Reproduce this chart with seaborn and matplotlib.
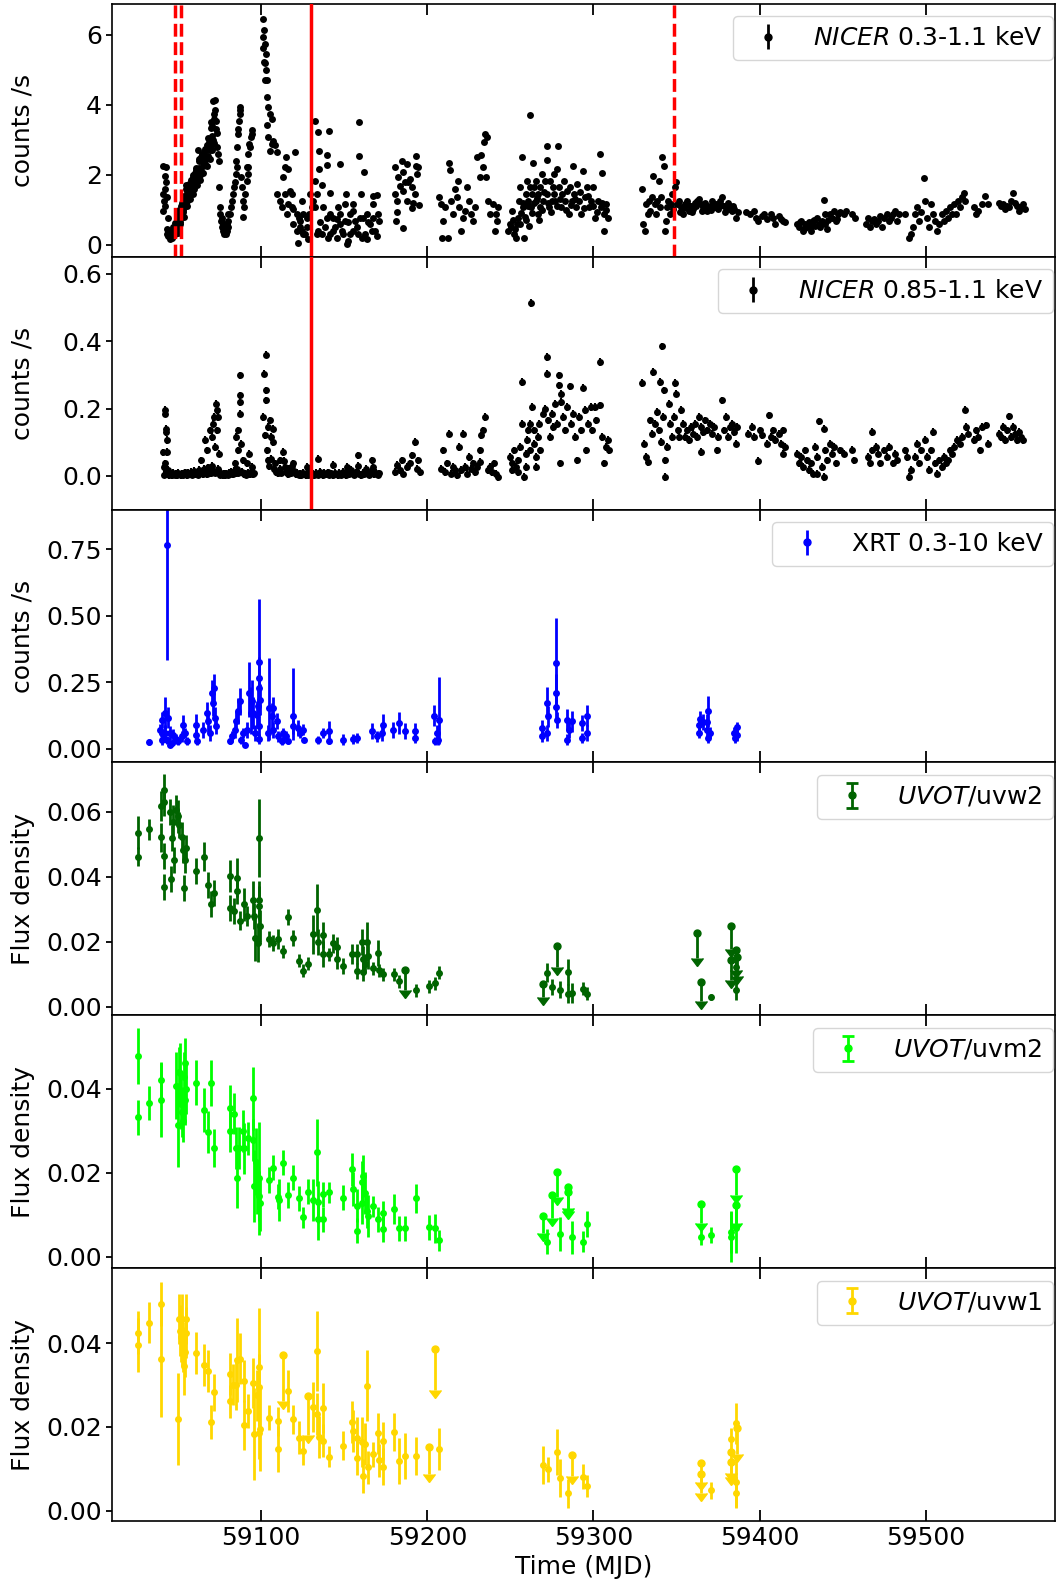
import numpy as np
import pandas as pd
import matplotlib
matplotlib.use("Agg")
import matplotlib.pyplot as plt
import seaborn as sns

# ---------------- data ----------------
# NICER 0.3-1.1 keV : (MJD, counts/s)
nicer_soft = [
    (59041.0,2.26),(59042.4,2.22),(59042.0,1.98),(59042.6,1.79),(59042.0,1.60),(59041.0,1.45),(59043.0,1.36),
    (59041.6,1.26),(59041.0,0.97),(59044.0,0.78),(59043.0,0.45),(59044.0,0.26),(59045.0,0.16),(59042.0,1.12),
    (59043.0,0.31),(59044.6,0.40),
    (59046.0,0.20),(59046.3,0.35),(59046.6,0.28),(59047.0,0.25),(59047.3,0.45),(59047.6,0.35),(59048.0,0.33),
    (59048.4,0.55),(59048.8,0.45),(59049.0,0.42),(59049.4,0.70),(59049.8,0.55),(59050.0,0.52),(59050.4,0.85),
    (59050.8,0.65),(59051.0,0.60),(59051.4,1.10),(59051.8,0.85),(59052.0,0.82),(59052.4,1.20),(59052.8,1.00),
    (59053.0,0.95),(59053.4,1.40),(59053.8,1.15),(59054.0,1.10),(59054.4,1.60),(59054.8,1.30),(59055.0,1.25),
    (59055.4,1.55),(59055.8,1.40),(59056.0,1.30),(59056.5,1.75),(59057.0,1.45),(59057.5,1.85),(59058.0,1.55),
    (59058.5,1.70),(59059.0,1.95),(59059.5,1.60),(59060.0,2.05),(59060.5,1.75),(59061.0,2.20),(59061.5,1.85),
    (59062.0,2.70),(59062.2,1.95),(59062.5,2.40),(59063.0,2.00),(59063.5,2.50),(59064.0,2.10),(59064.5,2.55),
    (59065.0,2.25),(59065.5,2.65),(59066.0,2.30),(59066.5,2.75),(59067.0,2.45),(59067.5,2.85),(59068.0,2.55),
    (59068.5,2.95),(59069.0,2.70),(59069.5,3.35),(59070.0,2.85),(59070.3,3.40),(59070.6,3.10),(59071.0,4.10),
    (59071.3,3.60),(59071.6,2.90),(59072.0,4.15),(59072.3,3.85),(59072.6,3.30),(59073.0,3.55),(59073.3,3.20),
    (59073.6,2.80),(59074.0,2.60),(59074.5,2.40),(59047.8,0.30),(59050.2,0.70),(59052.2,0.95),(59054.2,1.35),
    (59056.2,1.55),(59058.2,1.75),(59060.2,1.90),(59062.8,2.20),(59064.8,2.35),(59066.8,2.55),(59068.8,2.80),
    (59070.8,3.00),(59071.8,3.75),
    (59046.8,0.50),(59048.2,0.62),(59049.6,0.35),(59050.6,1.00),(59051.2,0.75),(59052.6,1.30),(59053.2,0.80),
    (59054.6,1.70),(59055.2,1.10),(59056.8,1.65),(59057.2,1.30),(59058.8,2.00),(59059.2,1.45),(59060.8,2.15),
    (59061.2,1.70),(59062.4,2.45),(59063.2,1.85),(59064.2,2.60),(59065.2,2.05),(59066.2,2.75),(59067.2,2.25),
    (59068.2,3.05),(59069.2,2.45),(59069.8,3.50),(59070.5,2.70),
    (59075.1,0.88),(59075.5,0.69),(59076.1,0.50),(59076.7,0.40),(59077.5,0.31),(59078.1,0.35),(59078.7,0.31),
    (59079.1,0.40),(59079.7,0.50),(59080.1,0.69),(59075.1,1.07),(59076.1,0.78),(59077.1,0.59),(59078.1,0.45),
    (59079.1,0.59),(59080.1,0.88),(59074.5,1.64),(59081.1,0.88),(59081.7,1.07),(59082.3,1.26),(59083.1,1.45),
    (59083.7,1.64),(59084.1,1.79),(59084.7,2.02),(59085.1,2.41),(59085.5,2.79),(59085.7,2.22),(59086.1,3.17),
    (59086.1,3.31),(59086.7,3.55),(59087.1,3.94),(59087.5,3.74),(59087.1,3.84),(59088.1,1.93),(59088.7,1.64),
    (59089.1,1.26),(59089.1,0.80),(59089.5,1.07),(59090.2,1.45),(59091.2,1.83),(59091.2,2.22),(59091.8,2.02),
    (59092.2,2.60),(59092.8,2.88),(59093.2,2.79),(59093.6,3.08),(59094.2,3.17),(59094.6,3.27),(59092.2,2.22),
    (59101.2,6.44),(59101.6,6.13),(59100.8,5.94),(59102.2,5.75),(59101.2,5.61),(59102.8,5.46),(59101.6,5.22),
    (59102.6,4.99),(59103.2,4.70),(59103.6,4.22),(59104.2,3.94),(59105.2,3.74),(59103.2,3.41),(59106.2,3.60),
    (59104.2,3.08),(59107.2,2.98),(59105.2,2.69),(59109.2,2.65),(59106.2,2.88),(59108.2,2.84),(59102.2,5.18),
    (59102.0,4.70),
    (59109.2,1.45),(59111.2,1.26),(59112.2,1.07),(59113.2,1.93),(59114.3,2.22),(59114.9,2.50),(59116.3,2.17),
    (59117.3,1.55),(59118.3,1.45),(59119.3,1.02),(59120.3,2.65),(59121.3,0.40),(59122.3,0.04),(59123.3,0.69),
    (59124.3,1.26),(59125.3,0.88),(59126.3,0.31),(59127.3,0.50),(59128.3,0.16),(59128.9,0.88),(59129.3,1.45),
    (59123.3,0.50),(59121.3,0.88),(59119.3,0.59),(59115.3,0.88),(59118.3,1.07),(59114.3,1.45),(59116.3,1.17),
    (59125.3,0.31),(59127.3,0.78),(59130.3,1.07),(59124.3,0.40),(59122.9,0.78),
    (59132.3,3.53),(59134.3,3.22),(59141.0,3.25),(59134.9,2.69),(59139.3,2.58),(59139.3,2.29),(59134.7,2.17),
    (59147.4,2.31),(59158.6,3.52),(59158.6,2.55),(59162.0,2.09),(59132.3,1.83),(59136.3,1.71),(59141.4,1.47),
    (59151.0,1.45),(59159.8,1.45),(59167.1,1.40),(59169.5,1.42),(59133.3,1.45),(59135.3,0.64),(59138.3,0.50),
    (59141.4,0.31),(59143.4,0.40),(59145.4,0.21),(59147.4,0.88),(59149.4,0.31),(59151.4,0.02),(59152.4,0.11),
    (59155.4,0.40),(59157.4,0.50),(59160.4,0.21),(59162.4,0.31),(59164.4,0.64),(59167.5,0.78),(59168.5,0.40),
    (59169.5,0.26),(59134.3,0.40),(59136.3,0.31),(59139.3,0.78),(59143.4,0.78),(59147.4,0.59),(59150.4,0.69),
    (59153.4,0.88),(59155.4,0.97),(59156.4,0.69),(59161.4,0.78),(59163.4,0.88),(59165.4,0.59),(59146.4,1.07),
    (59150.4,1.17),(59155.4,1.17),(59167.5,1.17),(59145.4,0.74),(59132.3,1.07),(59137.3,1.07),(59141.4,0.88),
    (59144.4,0.50),(59148.4,0.40),(59153.4,0.31),(59159.4,0.78),(59166.5,0.40),(59171.1,0.69),(59170.5,0.88),
    (59131.3,1.26),(59133.3,0.31),(59140.4,0.21),(59152.4,0.64),(59158.4,0.31),(59163.4,0.16),
    (59180.5,2.23),(59184.5,2.41),(59187.5,2.31),(59193.0,2.55),(59194.6,2.22),(59189.5,1.88),(59182.5,1.93),
    (59185.5,2.07),(59183.5,1.69),(59180.5,1.45),(59181.9,1.26),(59185.5,1.55),(59188.5,1.79),(59190.5,1.64),
    (59192.6,1.45),(59191.6,1.21),(59190.5,1.05),(59195.0,1.15),(59181.5,0.93),(59181.1,0.67),(59185.5,0.48),
    (59187.5,1.26),(59186.5,1.79),(59193.2,2.26),(59193.6,2.02),
    (59206.9,1.36),(59208.1,1.17),(59208.6,0.21),(59209.3,0.69),(59210.5,1.07),(59212.5,0.19),(59213.0,2.34),
    (59213.5,2.15),(59214.2,1.26),(59215.4,0.88),(59216.7,1.60),(59217.9,1.36),(59218.4,1.83),(59219.1,1.07),
    (59220.3,0.40),(59221.6,0.78),(59222.8,0.97),(59224.0,1.64),(59225.2,1.26),(59226.5,0.88),(59227.7,0.69),
    (59228.9,1.07),(59230.1,2.50),(59231.4,1.93),(59232.6,2.58),(59233.8,2.22),(59234.3,2.93),(59235.0,3.17),
    (59235.7,3.08),(59235.2,1.93),(59236.3,1.26),(59237.5,0.88),(59239.5,1.17),(59241.2,0.88),(59242.4,1.07),
    (59241.9,0.69),(59240.5,0.40),
    (59248.5,0.40),(59249.8,0.59),(59251.0,0.97),(59252.2,0.31),(59253.4,0.21),(59254.7,0.78),(59255.4,1.26),
    (59255.9,1.64),(59257.1,2.50),(59257.6,1.07),(59258.3,0.19),(59259.1,1.45),(59260.0,1.83),(59260.8,1.26),
    (59261.5,1.64),(59262.0,3.72),(59262.5,1.07),(59263.2,1.45),(59263.7,2.34),(59264.5,1.64),(59265.2,1.26),
    (59265.7,1.83),(59266.4,0.88),(59266.9,1.45),(59267.6,1.07),(59268.1,1.64),(59268.9,2.02),(59269.4,1.26),
    (59270.6,1.83),(59271.8,2.81),(59271.8,2.43),(59272.3,1.45),(59273.0,1.07),(59273.8,1.83),(59274.8,1.26),
    (59275.5,1.64),(59276.2,2.02),(59276.7,1.26),(59277.9,2.17),(59278.7,2.81),(59279.2,1.64),(59280.4,1.07),
    (59281.1,1.45),(59282.1,1.83),(59282.8,1.26),(59284.1,1.55),(59285.3,0.88),(59286.0,1.64),(59287.0,1.26),
    (59287.7,2.24),(59288.5,1.45),(59289.5,1.07),(59290.2,1.74),(59291.4,1.26),(59292.6,0.88),(59293.9,2.10),
    (59295.1,1.36),(59296.3,1.64),(59297.5,1.07),(59298.8,1.26),(59300.0,1.64),(59301.2,0.78),(59302.5,1.26),
    (59303.7,2.60),(59304.4,1.07),(59305.4,2.06),(59306.1,0.88),(59306.6,0.40),(59307.4,1.17),(59308.6,0.78),
    (59250.2,0.50),(59251.8,0.70),(59253.0,0.45),(59254.2,0.60),(59256.6,0.90),(59259.5,0.70),
    (59256.0,0.60),(59257.5,1.20),(59258.8,0.80),(59260.5,1.10),(59261.0,0.55),(59263.0,0.90),(59264.0,1.20),
    (59266.0,1.35),(59267.0,0.70),(59269.0,1.00),(59270.0,1.50),(59272.8,1.20),(59274.2,0.95),(59276.0,1.45),
    (59278.0,1.10),(59280.0,1.30),(59283.5,1.00),(59286.5,1.15),(59289.0,1.30),(59292.0,1.50),(59294.5,1.05),
    (59297.0,1.40),(59299.5,1.10),(59302.0,0.95),(59305.0,1.20),(59307.8,1.00),
    (59329.4,1.60),(59330.1,0.59),(59331.1,0.40),(59331.9,1.17),(59332.6,0.88),(59333.6,1.26),(59334.3,0.97),
    (59335.0,1.36),(59336.0,1.96),(59336.8,1.17),(59337.5,0.88),(59338.5,1.26),(59339.2,1.83),(59340.0,1.07),
    (59340.4,1.36),(59341.2,2.50),(59342.2,2.24),(59342.9,0.40),(59343.4,0.69),(59344.1,1.07),(59344.9,1.26),
    (59345.8,0.88),(59346.6,1.17),(59347.3,1.45),(59347.8,1.02),(59349.0,1.64),(59349.8,1.79),(59350.2,1.17),
    (59351.5,1.26),(59352.7,1.07),(59353.9,0.88),(59355.1,1.17),(59356.4,1.26),(59357.6,0.97),(59358.8,1.12),
    (59360.0,1.02),(59361.3,1.21),(59362.5,1.26),(59363.7,1.31),(59364.9,1.17),(59366.2,1.07),(59367.4,1.21),
    (59368.6,0.97),(59369.9,1.12),(59371.1,1.26),(59372.3,1.07),(59373.5,1.17),(59374.8,1.02),(59376.0,1.26),
    (59377.2,1.36),(59378.4,1.12),(59379.7,1.07),(59380.9,1.21),(59382.1,1.12),(59383.3,0.97),(59384.6,1.02),
    (59385.8,0.78),(59387.0,0.93),(59352.0,0.95),(59354.5,1.05),(59357.0,1.15),(59359.5,0.95),(59362.0,1.10),
    (59365.5,0.98),(59368.0,1.12),(59370.5,1.00),(59373.0,1.08),(59376.5,1.15),(59379.0,0.95),(59381.5,1.02),
    (59384.0,1.10),
    (59391.9,0.93),(59394.4,0.88),(59396.8,0.97),(59398.0,0.78),(59399.3,0.69),(59401.7,0.83),(59402.9,0.88),
    (59404.2,0.74),(59406.6,0.88),(59407.8,0.78),(59409.1,0.59),(59411.5,0.83),(59412.7,0.74),(59414.0,0.69),
    (59415.2,0.64),
    (59422.5,0.59),(59423.8,0.50),(59425.0,0.69),(59426.2,0.40),(59427.5,0.59),(59428.7,0.50),(59429.9,0.64),
    (59431.1,0.40),(59432.4,0.69),(59433.6,0.54),(59434.8,0.78),(59436.0,0.59),(59437.3,0.69),(59438.5,1.29),
    (59439.2,0.88),(59439.7,0.59),(59440.9,0.45),(59442.2,0.88),(59443.4,0.78),(59444.6,0.97),(59445.8,0.69),
    (59447.1,0.88),(59448.3,0.93),(59450.7,0.88),(59452.0,0.97),(59455.6,0.88),(59457.6,0.78),(59424.5,0.65),
    (59427.0,0.45),(59430.5,0.55),(59433.0,0.70),(59436.5,0.50),(59441.5,0.70),(59446.5,0.75),
    (59464.2,0.59),(59465.4,0.78),(59466.7,0.50),(59467.9,0.69),(59469.1,0.74),(59470.3,0.59),(59471.6,0.69),
    (59472.8,0.83),(59474.0,0.50),(59475.2,0.78),(59476.5,0.88),(59477.7,0.69),(59478.9,0.78),(59480.1,0.88),
    (59481.4,0.96),(59482.6,0.69),(59483.8,0.88),(59487.5,0.88),
    (59490.0,0.21),(59491.2,0.31),(59492.4,0.50),(59493.6,0.88),(59494.9,1.07),(59496.1,0.69),(59497.3,0.93),
    (59499.0,1.91),(59499.8,1.26),(59501.0,0.78),(59502.2,0.50),(59503.4,1.17),(59504.7,0.88),(59505.9,0.69),
    (59507.1,0.40),(59508.3,0.59),(59509.6,0.88),(59510.8,0.69),(59512.0,0.97),(59513.2,0.78),(59514.5,1.07),
    (59515.7,0.88),(59516.9,1.17),(59518.1,0.88),(59519.4,1.26),(59520.6,1.07),(59521.8,1.36),(59523.0,1.47),
    (59523.8,1.26),
    (59529.2,1.07),(59530.4,0.88),(59531.6,0.97),(59534.1,1.17),(59536.0,1.40),(59537.7,1.17),(59543.9,1.21),
    (59545.1,1.12),(59546.3,1.17),(59547.5,1.02),(59548.8,1.12),(59550.0,1.07),(59551.2,1.26),(59552.5,1.47),
    (59553.7,1.21),(59554.9,1.12),(59556.1,0.97),(59557.4,1.07),(59558.6,1.17),(59559.8,1.02),
]
nicer_soft_err = 0.04

# NICER 0.85-1.1 keV : (MJD, counts/s)
nicer_hard = [
    (59042.0,0.195),(59042.0,0.185),(59042.6,0.140),(59042.4,0.130),(59043.0,0.106),(59043.0,0.071),(59042.0,0.037),
    (59043.6,0.017),(59041.0,0.070),(59041.4,0.027),
    (59066.1,0.106),(59069.1,0.135),(59071.1,0.155),(59072.7,0.214),(59073.1,0.195),(59074.1,0.175),(59072.1,0.086),
    (59064.0,0.046),(59067.1,0.076),(59070.1,0.116),(59071.7,0.175),(59073.5,0.135),(59074.7,0.066),
    (59087.5,0.298),(59087.1,0.239),(59087.1,0.219),(59087.1,0.185),(59086.1,0.135),(59085.1,0.116),(59086.1,0.076),
    (59089.1,0.046),(59088.1,0.096),(59084.1,0.037),(59092.6,0.066),(59091.2,0.037),(59094.2,0.027),
    (59102.6,0.360),(59101.4,0.303),(59102.6,0.254),(59102.6,0.224),(59101.2,0.175),(59105.2,0.165),(59107.2,0.140),
    (59102.2,0.120),(59106.8,0.101),(59103.2,0.076),(59112.8,0.071),(59104.2,0.145),(59105.6,0.116),(59103.8,0.046),
    (59108.2,0.037),(59111.2,0.046),
    (59134.3,0.051),(59158.4,0.061),(59166.5,0.046),(59143.4,0.032),(59151.4,0.027),(59119.3,0.037),(59127.3,0.027),
    (59192.6,0.101),(59184.5,0.046),(59190.5,0.061),(59194.6,0.046),(59181.5,0.032),(59183.5,0.017),(59187.5,0.027),
    (59180.5,0.012),(59189.5,0.037),(59193.6,0.022),(59195.6,0.012),(59185.5,0.007),
    (59041.5,0.004),(59043.5,0.008),(59044.5,0.003),(59045.5,0.006),(59046.3,0.002),(59047.0,0.009),(59047.8,0.004),
    (59048.5,0.007),(59049.3,0.003),(59050.0,0.010),(59050.8,0.005),(59051.5,0.002),(59052.3,0.008),(59053.0,0.004),
    (59053.8,0.011),(59054.5,0.006),(59055.3,0.003),(59056.0,0.009),(59056.8,0.005),(59057.5,0.012),(59058.3,0.004),
    (59059.0,0.008),(59059.8,0.015),(59060.5,0.006),(59061.3,0.010),(59062.0,0.004),(59062.8,0.018),(59063.5,0.008),
    (59064.3,0.012),(59065.0,0.005),(59065.8,0.020),(59066.5,0.010),(59067.3,0.006),(59068.0,0.025),(59068.8,0.012),
    (59069.5,0.008),(59070.3,0.030),(59071.0,0.015),(59072.0,0.010),(59073.8,0.020),(59074.5,0.008),(59075.3,0.004),
    (59076.0,0.010),(59076.8,0.003),(59077.5,0.006),(59078.3,0.002),(59079.0,0.008),(59079.8,0.004),(59080.5,0.010),
    (59081.3,0.005),(59082.0,0.012),(59082.8,0.006),(59083.5,0.015),(59084.5,0.008),(59085.5,0.020),(59086.0,0.010),
    (59088.5,0.012),(59089.5,0.005),(59090.3,0.008),(59091.0,0.004),(59092.0,0.010),(59093.0,0.006),(59093.8,0.012),
    (59094.8,0.005),(59095.5,0.009),
    (59104.5,0.030),(59106.0,0.050),(59107.8,0.020),(59108.8,0.012),(59110.0,0.008),(59111.0,0.020),(59112.0,0.010),
    (59113.5,0.045),(59114.3,0.025),(59115.0,0.012),(59116.0,0.006),(59117.0,0.020),(59118.0,0.008),(59118.8,0.030),
    (59119.8,0.015),(59120.8,0.005),(59121.5,0.010),(59122.5,0.004),(59123.3,0.008),(59124.0,0.003),(59125.0,0.010),
    (59125.8,0.005),(59126.8,0.002),(59127.5,0.008),(59128.3,0.004),(59129.0,0.010),(59130.0,0.003),(59131.0,0.007),
    (59132.0,0.002),(59133.0,0.009),(59134.0,0.004),(59135.3,0.012),(59136.0,0.006),(59137.0,0.003),(59138.0,0.009),
    (59139.0,0.005),(59140.0,0.011),(59141.0,0.004),(59142.0,0.008),(59143.0,0.003),(59144.3,0.010),(59145.0,0.005),
    (59146.0,0.002),(59147.0,0.009),(59148.0,0.004),(59149.0,0.012),(59150.0,0.006),(59151.0,0.003),(59152.0,0.010),
    (59153.0,0.005),(59154.0,0.018),(59155.0,0.008),(59156.0,0.004),(59157.0,0.011),(59158.0,0.030),(59159.0,0.007),
    (59160.0,0.003),(59161.0,0.010),(59162.0,0.005),(59163.0,0.020),(59164.0,0.008),(59165.0,0.004),(59166.0,0.012),
    (59167.0,0.025),(59168.0,0.006),(59169.0,0.010),(59170.0,0.004),(59171.0,0.008),
    (59213.0,0.125),(59221.6,0.125),(59232.6,0.120),(59235.0,0.175),(59233.8,0.135),(59209.3,0.076),(59219.1,0.086),
    (59225.2,0.056),(59240.0,0.037),(59208.1,0.022),(59210.5,0.012),(59211.8,0.037),(59214.2,0.007),(59215.4,0.027),
    (59216.7,0.017),(59217.9,0.002),(59220.3,0.017),(59222.8,0.027),(59224.0,0.007),(59226.5,0.022),(59227.7,0.037),
    (59228.9,0.012),(59230.1,0.027),(59231.4,0.041),(59236.3,0.017),(59237.5,0.027),(59238.7,0.012),(59241.2,0.007),
    (59242.4,-0.003),(59231.4,0.076),
    (59256.9,0.279),(59262.5,0.513),(59257.1,0.155),(59263.2,0.204),(59260.8,0.135),(59249.8,0.056),(59251.0,0.037),
    (59252.2,0.076),(59253.4,0.027),(59254.7,0.046),(59255.9,0.086),(59258.3,-0.003),(59259.1,0.066),(59260.0,0.106),
    (59261.5,0.155),(59262.0,0.076),(59264.0,0.135),(59264.5,0.096),(59265.7,0.027),(59266.4,0.116),(59267.4,0.155),
    (59268.1,0.076),(59269.4,0.185),(59270.6,0.200),(59271.8,0.353),(59271.8,0.303),(59272.5,0.165),(59273.8,0.116),
    (59274.8,0.185),(59275.5,0.145),(59276.7,0.214),(59277.9,0.155),(59279.2,0.298),(59279.2,0.269),(59280.4,0.244),
    (59280.4,0.219),(59279.7,0.037),(59281.6,0.175),(59282.8,0.135),(59284.1,0.204),(59285.8,0.266),(59286.5,0.155),
    (59287.7,0.185),(59288.9,0.116),(59290.2,0.046),(59291.4,0.175),(59292.6,0.135),(59293.9,0.262),(59295.1,0.195),
    (59295.8,0.076),(59296.8,0.155),(59298.3,0.204),(59299.3,0.135),(59300.7,0.204),(59301.7,0.165),(59303.7,0.338),
    (59303.7,0.209),(59304.9,0.116),(59306.1,0.037),(59307.4,0.086),(59308.6,0.106),(59309.1,0.076),(59251.0,0.017),
    (59254.7,0.012),(59259.5,0.027),(59265.2,0.056),
    (59329.4,0.276),(59341.2,0.384),(59336.0,0.308),(59340.0,0.279),(59349.0,0.276),(59349.8,0.244),(59338.0,0.190),
    (59345.3,0.214),(59352.7,0.195),(59331.9,0.056),(59333.1,0.041),(59342.9,-0.003),(59342.9,0.046),(59334.3,0.165),
    (59335.5,0.125),(59336.8,0.155),(59339.2,0.135),(59340.4,0.101),(59341.7,0.175),(59342.4,0.254),(59344.1,0.086),
    (59345.8,0.155),(59347.3,0.116),(59348.3,0.175),(59350.7,0.135),(59351.7,0.116),(59330.6,0.096),
    (59353.9,0.155),(59355.1,0.116),(59356.4,0.135),(59357.6,0.106),(59358.8,0.145),(59360.0,0.125),(59361.3,0.155),
    (59362.5,0.116),(59363.7,0.175),(59364.5,0.071),(59365.0,0.145),(59366.2,0.130),(59367.4,0.165),(59368.6,0.135),
    (59369.9,0.155),(59371.1,0.125),(59372.3,0.145),(59374.3,0.076),(59375.2,0.116),(59377.2,0.224),(59378.4,0.135),
    (59379.7,0.175),(59380.9,0.116),(59382.1,0.145),(59383.3,0.155),(59384.6,0.130),(59385.8,0.096),(59386.5,0.145),
    (59393.1,0.125),(59395.6,0.145),(59396.8,0.116),(59398.8,0.044),(59400.5,0.135),(59401.7,0.120),(59404.2,0.096),
    (59405.4,0.180),(59406.6,0.116),(59407.8,0.135),(59409.1,0.106),(59411.5,0.125),(59412.7,0.096),(59414.0,0.135),
    (59414.0,0.066),(59415.2,0.086),
    (59422.5,0.066),(59423.8,0.037),(59425.0,0.056),(59426.2,0.027),(59427.5,0.076),(59428.7,0.046),(59429.9,0.017),
    (59431.1,0.037),(59432.4,0.007),(59433.6,0.086),(59434.8,0.056),(59435.5,0.162),(59437.3,0.027),(59438.5,0.140),
    (59439.2,0.076),(59440.9,0.046),(59442.2,0.096),(59443.4,0.066),(59444.6,0.086),(59445.8,0.037),(59448.3,0.076),
    (59450.7,0.066),(59455.6,0.078),(59456.9,0.046),(59434.8,0.007),(59438.5,-0.003),
    (59465.4,0.056),(59466.7,0.037),(59467.4,0.130),(59467.9,0.076),(59470.3,0.086),(59471.6,0.066),(59472.8,0.037),
    (59475.2,0.076),(59476.5,0.056),(59477.7,0.086),(59480.1,0.037),(59481.4,0.066),(59482.6,0.046),(59487.5,0.076),
    (59488.7,0.056),
    (59490.0,-0.003),(59491.2,0.017),(59493.6,0.056),(59494.9,0.096),(59496.1,0.037),(59497.3,0.076),(59499.8,0.106),
    (59501.0,0.056),(59502.2,0.017),(59503.4,0.076),(59504.7,0.130),(59505.9,0.037),(59507.1,0.007),(59508.3,0.046),
    (59509.6,0.027),(59510.8,0.056),(59512.0,0.037),(59513.2,0.046),(59514.5,0.076),(59515.7,0.066),(59516.9,0.086),
    (59518.9,0.106),(59520.6,0.096),(59521.8,0.116),(59523.5,0.197),(59524.2,0.145),
    (59525.5,0.125),(59529.2,0.106),(59530.4,0.135),(59531.6,0.116),(59532.8,0.076),(59534.1,0.145),(59536.5,0.150),
    (59537.7,0.096),(59543.9,0.125),(59545.1,0.116),(59546.3,0.145),(59547.5,0.106),(59548.8,0.135),(59550.0,0.177),
    (59551.2,0.116),(59552.5,0.145),(59553.7,0.125),(59554.9,0.106),(59556.1,0.130),(59557.4,0.116),(59558.6,0.106),
]
nicer_hard_err = 0.011

# Swift/XRT 0.3-10 keV : (MJD, counts/s, lower error, upper error)
xrt = [
    (59032.5,0.025,0.010,0.010),(59043.4,0.765,0.430,0.430),(59042.0,0.134,0.060,0.060),(59040.0,0.109,0.030,0.030),
    (59039.0,0.072,0.020,0.020),(59041.0,0.053,0.020,0.020),(59043.0,0.034,0.015,0.015),(59044.0,0.116,0.040,0.040),
    (59045.0,0.015,0.010,0.010),(59040.0,0.034,0.020,0.020),(59042.0,0.059,0.030,0.030),(59045.0,0.059,0.025,0.025),
    (59046.0,0.021,0.010,0.010),(59047.0,0.053,0.020,0.020),(59048.6,0.036,0.020,0.020),(59050.0,0.028,0.015,0.015),
    (59052.0,0.046,0.020,0.020),(59053.0,0.090,0.035,0.035),(59054.0,0.059,0.020,0.020),(59055.0,0.028,0.015,0.015),
    (59061.0,0.090,0.040,0.040),(59061.0,0.053,0.020,0.020),(59061.4,0.028,0.015,0.015),(59065.0,0.072,0.030,0.030),
    (59067.1,0.134,0.040,0.040),(59068.1,0.103,0.040,0.040),(59069.1,0.059,0.030,0.030),(59070.1,0.210,0.050,0.050),
    (59071.1,0.172,0.050,0.050),(59071.7,0.229,0.053,0.053),(59072.1,0.116,0.040,0.040),(59072.7,0.084,0.030,0.030),
    (59081.1,0.028,0.010,0.010),(59082.1,0.046,0.020,0.020),(59084.1,0.072,0.030,0.030),(59085.1,0.103,0.040,0.040),
    (59086.1,0.141,0.050,0.050),(59087.1,0.178,0.050,0.050),(59088.1,0.034,0.015,0.015),(59089.1,0.059,0.020,0.020),
    (59090.2,0.015,0.010,0.010),(59091.2,0.072,0.030,0.030),(59092.6,0.210,0.090,0.117),(59093.6,0.134,0.080,0.100),
    (59094.2,0.178,0.080,0.080),(59095.2,0.134,0.060,0.060),(59096.2,0.059,0.030,0.030),(59097.2,0.128,0.050,0.050),
    (59098.2,0.160,0.070,0.070),(59098.6,0.327,0.200,0.237),(59098.6,0.266,0.080,0.080),(59098.8,0.229,0.070,0.070),
    (59099.2,0.185,0.060,0.060),(59098.8,0.084,0.040,0.040),(59098.6,0.036,0.020,0.020),(59104.2,0.059,0.030,0.030),
    (59104.8,0.153,0.120,0.190),(59106.2,0.122,0.050,0.050),(59107.2,0.153,0.040,0.040),(59107.2,0.072,0.030,0.030),
    (59109.2,0.103,0.030,0.030),(59110.2,0.046,0.020,0.020),(59112.2,0.028,0.015,0.015),(59113.2,0.059,0.020,0.020),
    (59115.2,0.046,0.020,0.020),(59116.3,0.028,0.010,0.010),(59118.9,0.124,0.090,0.180),(59119.3,0.084,0.030,0.030),
    (59122.3,0.078,0.030,0.030),(59123.3,0.059,0.020,0.020),(59125.3,0.072,0.020,0.020),(59125.7,0.034,0.010,0.010),
    (59134.3,0.034,0.015,0.015),(59137.3,0.059,0.020,0.020),(59140.8,0.065,0.040,0.040),(59141.0,0.028,0.010,0.010),
    (59149.4,0.034,0.020,0.020),(59155.4,0.036,0.020,0.020),(59157.4,0.040,0.020,0.020),(59166.5,0.065,0.030,0.030),
    (59169.5,0.046,0.020,0.020),(59172.5,0.059,0.030,0.030),(59173.5,0.090,0.040,0.040),(59179.5,0.072,0.030,0.030),
    (59182.9,0.097,0.040,0.040),(59186.5,0.065,0.030,0.030),(59192.6,0.065,0.030,0.030),(59192.6,0.040,0.020,0.020),
    (59204.0,0.124,0.040,0.040),(59207.2,0.109,0.090,0.160),(59205.6,0.059,0.030,0.030),(59206.6,0.034,0.020,0.020),
    (59204.6,0.028,0.015,0.015),
    (59268.9,0.078,0.030,0.030),(59268.9,0.046,0.020,0.020),(59271.9,0.172,0.060,0.060),(59272.5,0.122,0.040,0.040),
    (59271.9,0.059,0.030,0.030),(59277.5,0.323,0.170,0.170),(59277.5,0.210,0.070,0.070),(59277.5,0.157,0.050,0.050),
    (59277.9,0.109,0.030,0.030),(59284.0,0.109,0.040,0.040),(59285.0,0.072,0.030,0.030),(59287.0,0.103,0.040,0.040),
    (59284.0,0.034,0.020,0.020),(59293.0,0.097,0.030,0.030),(59296.0,0.124,0.040,0.040),(59296.0,0.059,0.030,0.030),
    (59293.0,0.040,0.020,0.020),
    (59363.5,0.090,0.030,0.030),(59363.5,0.060,0.020,0.020),(59364.0,0.110,0.030,0.030),(59366.0,0.100,0.030,0.030),
    (59368.5,0.100,0.030,0.030),(59368.5,0.070,0.030,0.030),(59369.0,0.140,0.060,0.060),(59369.0,0.040,0.020,0.020),
    (59370.0,0.060,0.020,0.020),(59384.5,0.060,0.020,0.020),(59385.0,0.040,0.020,0.020),(59386.5,0.080,0.020,0.020),
    (59386.5,0.050,0.020,0.020),
]

# UVOT uvw2 : detections (MJD, flux, error) and upper limits (MJD, flux, arrow length)
uvw2 = [
    (59025.5,0.0535,0.0051),(59025.5,0.0462,0.0030),(59032.5,0.0546,0.0032),(59039.5,0.0617,0.0045),(59039.5,0.0521,0.0045),
    (59041.4,0.0665,0.0050),(59041.6,0.0631,0.0045),(59041.4,0.0464,0.0040),(59041.6,0.0369,0.0040),(59045.0,0.0600,0.0040),
    (59045.6,0.0392,0.0040),(59046.0,0.0518,0.0040),(59047.4,0.0451,0.0040),(59047.0,0.0569,0.0050),(59048.6,0.0605,0.0045),
    (59050.0,0.0585,0.0050),(59050.4,0.0559,0.0040),(59052.0,0.0523,0.0045),(59053.0,0.0482,0.0040),(59053.6,0.0364,0.0040),
    (59054.0,0.0451,0.0040),(59054.6,0.0489,0.0040),(59061.0,0.0418,0.0040),(59065.6,0.0462,0.0045),(59067.7,0.0374,0.0040),
    (59069.7,0.0316,0.0040),(59071.7,0.0349,0.0040),(59081.1,0.0402,0.0050),(59081.1,0.0303,0.0040),(59083.5,0.0294,0.0040),
    (59085.5,0.0397,0.0060),(59085.5,0.0357,0.0040),(59087.5,0.0265,0.0030),(59089.5,0.0315,0.0050),(59091.6,0.0279,0.0030),
    (59095.2,0.0328,0.0060),(59095.6,0.0280,0.0040),(59096.2,0.0212,0.0070),(59098.6,0.0518,0.0120),(59098.8,0.0328,0.0060),
    (59098.8,0.0311,0.0060),(59099.2,0.0248,0.0050),(59097.8,0.0197,0.0060),(59104.8,0.0208,0.0025),(59107.2,0.0197,0.0025),
    (59110.2,0.0208,0.0030),(59113.0,0.0171,0.0020),(59116.0,0.0275,0.0025),(59119.3,0.0212,0.0025),(59122.9,0.0142,0.0020),
    (59124.9,0.0111,0.0020),(59127.9,0.0133,0.0020),(59130.9,0.0223,0.0060),(59133.7,0.0297,0.0080),(59133.9,0.0200,0.0040),
    (59137.3,0.0221,0.0040),(59137.3,0.0161,0.0040),(59140.8,0.0161,0.0020),(59143.4,0.0195,0.0030),(59145.8,0.0185,0.0030),
    (59145.8,0.0147,0.0030),(59149.4,0.0125,0.0025),(59154.8,0.0162,0.0030),(59157.4,0.0162,0.0030),(59157.8,0.0111,0.0025),
    (59160.8,0.0200,0.0040),(59161.2,0.0147,0.0040),(59161.4,0.0108,0.0030),(59162.4,0.0133,0.0030),(59163.4,0.0200,0.0060),
    (59164.0,0.0155,0.0040),(59167.0,0.0118,0.0020),(59170.5,0.0164,0.0040),(59170.9,0.0113,0.0020),(59173.5,0.0100,0.0020),
    (59179.9,0.0100,0.0020),(59182.9,0.0079,0.0020),(59193.2,0.0051,0.0020),(59201.0,0.0064,0.0020),(59204.6,0.0072,0.0020),
    (59207.2,0.0105,0.0020),
    (59272.3,0.0105,0.0030),(59275.0,0.0062,0.0025),(59279.7,0.0053,0.0025),(59284.6,0.0106,0.0040),(59284.6,0.0041,0.0030),
    (59287.0,0.0043,0.0030),(59293.9,0.0056,0.0020),(59296.3,0.0041,0.0020),(59370.6,0.0031,0.0010),(59386.0,0.0123,0.0040),
    (59385.8,0.0051,0.0030),
]
uvw2_ul = [
    (59186.5,0.0113,0.0060),(59269.4,0.0069,0.0040),(59278.0,0.0187,0.0065),(59362.5,0.0228,0.0078),(59365.0,0.0077,0.0060),
    (59383.0,0.0248,0.0070),(59383.0,0.0144,0.0060),(59386.0,0.0174,0.0060),(59386.5,0.0154,0.0060),
]

# UVOT uvm2
uvm2 = [
    (59025.5,0.0478,0.0067),(59025.5,0.0332,0.0042),(59032.5,0.0366,0.0041),(59039.5,0.0420,0.0045),(59039.5,0.0373,0.0088),
    (59048.6,0.0407,0.0080),(59050.0,0.0314,0.0100),(59050.4,0.0440,0.0060),(59051.0,0.0438,0.0070),(59051.4,0.0365,0.0060),
    (59052.0,0.0345,0.0060),(59053.0,0.0324,0.0050),(59053.6,0.0427,0.0060),(59054.0,0.0462,0.0058),(59054.0,0.0373,0.0060),
    (59054.6,0.0400,0.0060),(59061.0,0.0415,0.0053),(59065.6,0.0349,0.0053),(59067.7,0.0296,0.0050),(59069.7,0.0414,0.0055),
    (59071.7,0.0260,0.0045),(59081.1,0.0355,0.0053),(59081.1,0.0299,0.0050),(59083.5,0.0341,0.0048),(59085.1,0.0258,0.0050),
    (59085.5,0.0187,0.0070),(59086.7,0.0258,0.0050),(59089.1,0.0300,0.0050),(59089.5,0.0258,0.0060),(59092.2,0.0282,0.0040),
    (59095.2,0.0378,0.0075),(59095.2,0.0277,0.0050),(59095.6,0.0169,0.0085),(59096.8,0.0226,0.0080),(59097.2,0.0163,0.0060),
    (59098.6,0.0187,0.0135),(59098.8,0.0145,0.0060),(59099.2,0.0127,0.0065),(59104.8,0.0183,0.0030),(59107.2,0.0212,0.0030),
    (59110.2,0.0143,0.0030),(59110.6,0.0135,0.0050),(59113.0,0.0224,0.0030),(59116.0,0.0147,0.0030),(59119.3,0.0188,0.0030),
    (59122.9,0.0139,0.0030),(59124.9,0.0094,0.0025),(59127.9,0.0155,0.0030),(59130.9,0.0135,0.0050),(59133.7,0.0249,0.0080),
    (59134.3,0.0130,0.0050),(59134.3,0.0089,0.0050),(59137.3,0.0089,0.0030),(59137.3,0.0149,0.0030),(59140.8,0.0154,0.0025),
    (59149.4,0.0141,0.0030),(59154.8,0.0208,0.0040),(59155.0,0.0162,0.0040),(59157.8,0.0122,0.0040),(59157.8,0.0062,0.0030),
    (59160.8,0.0179,0.0050),(59161.4,0.0193,0.0050),(59160.8,0.0127,0.0050),(59162.4,0.0152,0.0050),(59163.4,0.0108,0.0040),
    (59164.0,0.0096,0.0050),(59167.0,0.0120,0.0025),(59170.5,0.0089,0.0030),(59173.5,0.0104,0.0030),(59173.5,0.0066,0.0030),
    (59179.9,0.0114,0.0035),(59182.9,0.0068,0.0030),(59186.5,0.0068,0.0030),(59193.2,0.0139,0.0035),(59201.0,0.0070,0.0030),
    (59204.6,0.0068,0.0035),(59207.2,0.0040,0.0025),
    (59272.3,0.0036,0.0030),(59279.7,0.0054,0.0040),(59287.3,0.0046,0.0040),(59293.9,0.0036,0.0025),(59296.3,0.0078,0.0030),
    (59365.0,0.0047,0.0020),(59370.6,0.0052,0.0020),(59383.0,0.0047,0.0060),(59383.0,0.0060,0.0050),(59386.0,0.0068,0.0060),
]
uvm2_ul = [
    (59269.4,0.0096,0.0040),(59275.0,0.0147,0.0055),(59278.0,0.0201,0.0058),(59284.6,0.0167,0.0050),(59284.6,0.0155,0.0045),
    (59365.0,0.0126,0.0046),(59386.0,0.0210,0.0063),(59386.0,0.0124,0.0044),
]

# UVOT uvw1
uvw1 = [
    (59025.5,0.0425,0.0052),(59025.9,0.0395,0.0065),(59032.5,0.0449,0.0048),(59039.5,0.0494,0.0053),(59039.5,0.0363,0.0140),
    (59050.0,0.0218,0.0110),(59050.4,0.0458,0.0060),(59051.0,0.0430,0.0060),(59051.6,0.0414,0.0060),(59052.0,0.0458,0.0060),
    (59052.4,0.0406,0.0060),(59053.0,0.0390,0.0060),(59053.6,0.0345,0.0070),(59054.0,0.0379,0.0060),(59054.6,0.0458,0.0060),
    (59054.6,0.0425,0.0060),(59061.0,0.0376,0.0050),(59065.6,0.0347,0.0050),(59067.7,0.0333,0.0050),(59069.7,0.0212,0.0040),
    (59071.7,0.0282,0.0045),(59081.1,0.0327,0.0050),(59081.1,0.0261,0.0040),(59083.1,0.0301,0.0050),(59085.1,0.0301,0.0060),
    (59085.5,0.0360,0.0100),(59087.5,0.0363,0.0060),(59089.5,0.0309,0.0050),(59089.5,0.0204,0.0060),(59092.2,0.0238,0.0040),
    (59095.2,0.0305,0.0060),(59095.8,0.0182,0.0110),(59097.2,0.0275,0.0060),(59098.6,0.0343,0.0140),(59098.8,0.0295,0.0080),
    (59099.2,0.0194,0.0100),(59098.6,0.0184,0.0060),(59104.8,0.0222,0.0030),(59110.2,0.0213,0.0035),(59110.2,0.0146,0.0055),
    (59116.0,0.0286,0.0050),(59119.3,0.0218,0.0035),(59122.9,0.0174,0.0040),(59124.9,0.0143,0.0035),(59130.9,0.0248,0.0060),
    (59133.7,0.0381,0.0095),(59133.7,0.0230,0.0050),(59134.7,0.0175,0.0050),(59137.3,0.0245,0.0060),(59137.3,0.0167,0.0040),
    (59140.8,0.0129,0.0025),(59149.4,0.0155,0.0035),(59154.8,0.0212,0.0050),(59155.0,0.0190,0.0050),(59157.8,0.0174,0.0050),
    (59157.8,0.0125,0.0040),(59160.8,0.0164,0.0060),(59161.4,0.0083,0.0040),(59162.4,0.0159,0.0050),(59163.4,0.0298,0.0085),
    (59164.0,0.0103,0.0040),(59167.0,0.0134,0.0030),(59170.5,0.0184,0.0050),(59170.7,0.0120,0.0040),(59173.5,0.0166,0.0045),
    (59173.5,0.0105,0.0045),(59179.9,0.0188,0.0045),(59182.9,0.0119,0.0055),(59186.5,0.0130,0.0055),(59193.2,0.0131,0.0045),
    (59207.2,0.0147,0.0050),
    (59269.4,0.0109,0.0046),(59272.5,0.0099,0.0030),(59278.0,0.0140,0.0055),(59279.7,0.0077,0.0045),(59284.6,0.0041,0.0035),
    (59293.9,0.0081,0.0030),(59296.3,0.0059,0.0027),(59370.6,0.0048,0.0020),(59383.0,0.0170,0.0027),(59386.0,0.0208,0.0050),
    (59386.0,0.0069,0.0060),(59386.0,0.0043,0.0037),
]
uvw1_ul = [
    (59113.0,0.0371,0.0110),(59127.9,0.0274,0.0094),(59201.0,0.0151,0.0063),(59204.6,0.0386,0.0098),(59287.3,0.0133,0.0050),
    (59365.0,0.0114,0.0045),(59365.0,0.0087,0.0045),(59383.0,0.0140,0.0050),(59383.0,0.0117,0.0036),(59386.5,0.0196,0.0060),
]

# Red marker lines (MJD)
dashed_lines_top = [59048.0, 59051.6, 59348.7]
solid_line = 59129.7

x_ticks = [59100, 59200, 59300, 59400, 59500]

# ---------------- style ----------------
sns.set_theme(style="ticks", context="notebook")
plt.rcParams.update({
    "font.family": ["DejaVu Sans"],
    "font.size": 18,
    "axes.labelsize": 18,
    "xtick.labelsize": 18,
    "ytick.labelsize": 18,
    "legend.fontsize": 18,
    "axes.edgecolor": "black",
    "axes.linewidth": 1.2,
    "xtick.color": "black",
    "ytick.color": "black",
    "axes.labelcolor": "black",
    "text.color": "black",
    "mathtext.fontset": "dejavusans",
    "legend.framealpha": 0.8,
    "legend.edgecolor": "0.8",
    "legend.fancybox": True,
    "lines.markersize": 8,
})

fig, axes = plt.subplots(6, 1, figsize=(10.57, 15.87), dpi=100, sharex=True,
                         gridspec_kw=dict(hspace=0))
fig.subplots_adjust(left=0.1062, right=0.998, top=0.9975, bottom=0.0416)


def draw(ax, df, color, err, ms=5, elw=2.0):
    ax.errorbar(df["t"], df["y"], yerr=err, fmt="none", ecolor=color,
                elinewidth=elw, capsize=0, zorder=2)
    sns.scatterplot(data=df, x="t", y="y", ax=ax, color=color, s=ms ** 2,
                    linewidth=0, marker="o", zorder=3, legend=False)


def draw_ul(ax, ul, color):
    d = pd.DataFrame(ul, columns=["t", "y", "len"])
    ax.errorbar(d["t"], d["y"], yerr=d["len"], uplims=True, fmt="o", ms=5,
                color=color, ecolor=color, elinewidth=2, capsize=0, zorder=2)


def legend_proxy(ax, color, label, caps):
    ax.errorbar([np.nan], [np.nan], yerr=[1.0], fmt="o", ms=5, color=color,
                elinewidth=2, capsize=4 if caps else 0, capthick=2, label=label)
    ax.legend(loc="upper right", bbox_to_anchor=(1.011, 1.0), fontsize=18)


# Panel 1: NICER soft
df = pd.DataFrame(nicer_soft, columns=["t", "y"])
draw(axes[0], df, "black", nicer_soft_err, elw=1.5)
for x in dashed_lines_top:
    axes[0].axvline(x, color="red", ls="--", lw=2.5, zorder=5)
axes[0].axvline(solid_line, color="red", ls="-", lw=2.5, zorder=5)
legend_proxy(axes[0], "black", r"$\it{NICER}$ 0.3-1.1 keV", False)
axes[0].set_ylim(-0.34, 6.88)
axes[0].set_yticks([0, 2, 4, 6])
axes[0].set_ylabel("counts /s", labelpad=8)

# Panel 2: NICER hard
df = pd.DataFrame(nicer_hard, columns=["t", "y"])
draw(axes[1], df, "black", nicer_hard_err, elw=1.5)
axes[1].axvline(solid_line, color="red", ls="-", lw=2.5, zorder=5)
legend_proxy(axes[1], "black", r"$\it{NICER}$ 0.85-1.1 keV", False)
axes[1].set_ylim(-0.1, 0.65)
axes[1].set_yticks([0.0, 0.2, 0.4, 0.6])
axes[1].set_ylabel("counts /s", labelpad=8)

# Panel 3: XRT
df = pd.DataFrame(xrt, columns=["t", "y", "elo", "ehi"])
draw(axes[2], df, "blue", [df["elo"], df["ehi"]])
legend_proxy(axes[2], "blue", "XRT 0.3-10 keV", False)
axes[2].set_ylim(-0.052, 0.9)
axes[2].set_yticks([0.0, 0.25, 0.5, 0.75])
axes[2].set_ylabel("counts /s", labelpad=8)

# Panels 4-6: UVOT
uv_sets = [
    (axes[3], uvw2, uvw2_ul, "darkgreen", r"$\it{UVOT}$/uvw2", (-0.0026, 0.0751), [0.0, 0.02, 0.04, 0.06]),
    (axes[4], uvm2, uvm2_ul, "lime", r"$\it{UVOT}$/uvm2", (-0.0027, 0.0575), [0.0, 0.02, 0.04]),
    (axes[5], uvw1, uvw1_ul, "gold", r"$\it{UVOT}$/uvw1", (-0.0025, 0.0579), [0.0, 0.02, 0.04]),
]
for ax, det, ul, col, lab, ylim, yt in uv_sets:
    df = pd.DataFrame(det, columns=["t", "y", "e"])
    draw(ax, df, col, df["e"])
    draw_ul(ax, ul, col)
    legend_proxy(ax, col, lab, True)
    ax.set_ylim(*ylim)
    ax.set_yticks(yt)
    ax.set_ylabel("Flux density", labelpad=8)

for ax in axes:
    ax.set_xlim(59010.3, 59577.8)
    ax.set_xticks(x_ticks)
    ax.tick_params(axis="x", direction="in", top=True, bottom=True, length=8,
                   width=1.3, labelsize=18)
    ax.tick_params(axis="y", direction="out", left=True, length=4, width=1.3,
                   labelsize=18)
    for s in ax.spines.values():
        s.set_visible(True)
        s.set_color("black")
        s.set_linewidth(1.2)
    ax.set_xlabel("")

axes[-1].set_xlabel("Time (MJD)", fontsize=18, labelpad=4)
fig.align_ylabels(axes)

fig.savefig("out.png", dpi=100)
